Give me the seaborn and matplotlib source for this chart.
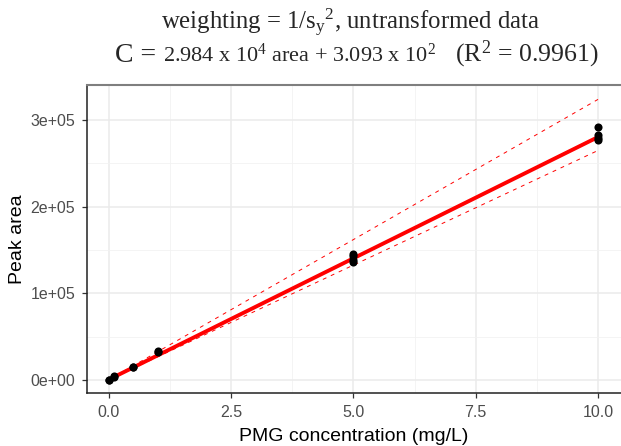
import numpy as np
import pandas as pd
import matplotlib
matplotlib.use("Agg")
import matplotlib.pyplot as plt
import seaborn as sns
from matplotlib.ticker import FuncFormatter, MultipleLocator

# Calibration standards (concentration in mg/L, peak area)
conc = [0, 0, 0.1, 0.1, 0.5, 0.5, 1, 1, 5, 5, 5, 5, 10, 10, 10, 10]
area = [0, 500, 3500, 5000, 14500, 15500, 32000, 33500,
        146000, 143000, 138000, 136000, 292500, 283000, 279000, 277500]

# Weighted fit and its interval, read at the ends of the range
fit_x = [0, 10]
fit_y = [500, 280500]
upper_y = [300, 324000]
lower_y = [300, 265000]

x_ticks = [0.0, 2.5, 5.0, 7.5, 10.0]
y_ticks = [0, 100000, 200000, 300000]

sns.set_style("white")
plt.rcParams['font.family'] = ['Liberation Sans', 'DejaVu Sans']
plt.rcParams['mathtext.fontset'] = 'custom'
plt.rcParams['mathtext.rm'] = 'Liberation Serif'
plt.rcParams['mathtext.it'] = 'Liberation Serif:italic'

df = pd.DataFrame({'conc': conc, 'area': area})
fit = pd.DataFrame({'x': fit_x + fit_x + fit_x,
                    'y': fit_y + upper_y + lower_y,
                    'kind': ['fit'] * 2 + ['upper'] * 2 + ['lower'] * 2})

fig = plt.figure(figsize=(6.21, 4.46), dpi=100)
ax = fig.add_axes([0.140, 0.119, 0.860, 0.690])

sns.lineplot(data=fit[fit['kind'] == 'fit'], x='x', y='y', color='red',
             linewidth=2.8, ax=ax, zorder=3)
for k in ['upper', 'lower']:
    sns.lineplot(data=fit[fit['kind'] == k], x='x', y='y', color='red',
                 linewidth=0.7, dashes=False, ax=ax, zorder=3,
                 linestyle=(0, (4, 5)))
sns.scatterplot(data=df, x='conc', y='area', color='black', s=34,
                edgecolor='black', linewidth=0, ax=ax, zorder=4)

ax.set_xlim(-0.45, 10.47)
ax.set_ylim(-15000, 340400)
ax.set_xticks(x_ticks)
ax.set_yticks(y_ticks)
ax.xaxis.set_minor_locator(MultipleLocator(1.25))
ax.yaxis.set_minor_locator(MultipleLocator(50000))
ax.xaxis.set_major_formatter(FuncFormatter(lambda v, p: f"{v:.1f}"))
ax.yaxis.set_major_formatter(FuncFormatter(lambda v, p: f"{v:.0e}"))

ax.grid(which='major', color='#ebebeb', linewidth=1.1)
ax.grid(which='minor', color='#f2f2f2', linewidth=0.6)
ax.set_axisbelow(True)

for s in ['left', 'bottom']:
    ax.spines[s].set_color('#222222')
    ax.spines[s].set_linewidth(1.1)
ax.spines['top'].set_color('#7f7f7f')
ax.spines['top'].set_linewidth(1.5)
ax.spines['right'].set_visible(False)

ax.tick_params(which='major', direction='out', length=3.5, width=0.9,
               color='#333333', labelcolor='#4d4d4d', labelsize=11.5,
               left=True, bottom=True)
ax.tick_params(axis='x', which='major', pad=5)
ax.tick_params(axis='y', which='major', pad=5)
ax.tick_params(which='minor', length=0)

ax.set_xlabel('PMG concentration (mg/L)', fontsize=14, color='black', labelpad=6)
ax.set_ylabel('Peak area', fontsize=14, color='black', labelpad=3)

# Title, line 1
fig.text(0.564, 0.950, r'weighting = 1/$\mathrm{s_y}^2$, untransformed data',
         ha='center', va='center', family='Liberation Serif', fontsize=17.8)

# Title, line 2 built from pieces of different size
pieces = [('C = ', 20),
          (r'2.984 x 10$^4$ area + 3.093 x 10$^2$', 16),
          (r'   (R$^2$ = 0.9961)', 18.5)]
fig.canvas.draw()
renderer = fig.canvas.get_renderer()
arts = []
for txt, size in pieces:
    t = fig.text(0, 0.862, txt, ha='left', va='baseline',
                 family='Liberation Serif', fontsize=size)
    arts.append(t)
widths = [a.get_window_extent(renderer).width for a in arts]
total = sum(widths)
x0 = 0.574 * fig.bbox.width - total / 2
for a, w in zip(arts, widths):
    a.set_x(x0 / fig.bbox.width)
    x0 += w

fig.savefig('out.png', dpi=100)
